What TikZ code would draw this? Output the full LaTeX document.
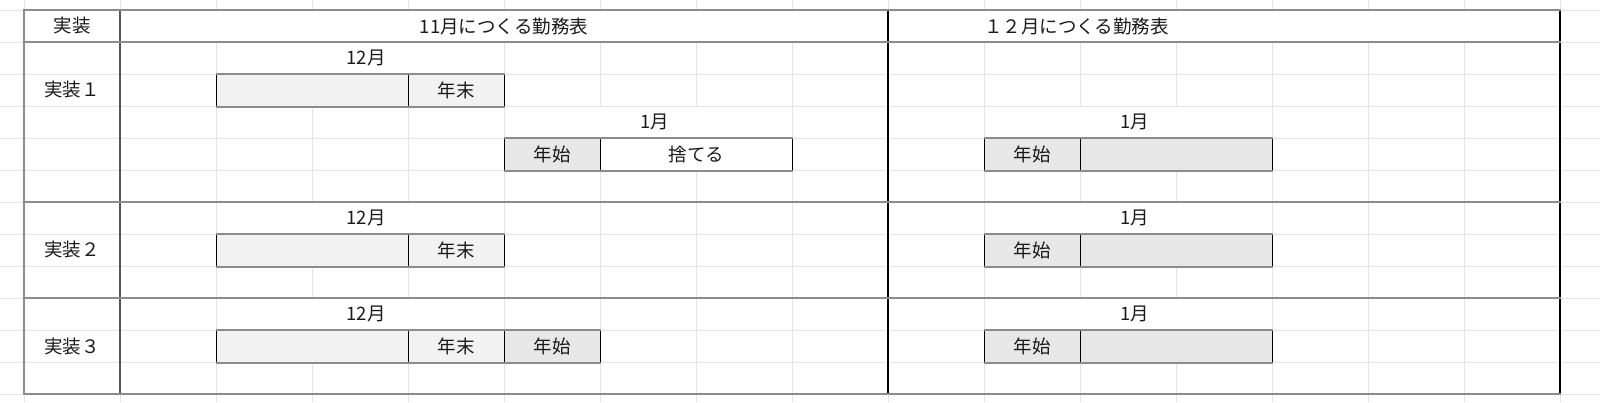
\documentclass[tikz,border=0pt]{standalone}
\usepackage{fontspec}
\newfontfamily\jp{Noto Sans CJK JP}
\definecolor{gridc}{HTML}{E4E4E4}
\definecolor{tborder}{HTML}{8C8C8C}
\definecolor{colborder}{HTML}{555555}
\definecolor{fillA}{HTML}{F2F2F2}
\definecolor{fillB}{HTML}{E7E7E7}
\definecolor{txt}{HTML}{1A1A1A}
\tikzset{
  gridline/.style={draw=gridc, line width=1pt},
  hborder/.style={draw=tborder, line width=2.2pt},
  lborder/.style={draw=tborder, line width=2pt},
  cborder/.style={draw=colborder, line width=1.2pt},
  mborder/.style={draw=black, line width=1.2pt},
  lbl/.style={font=\jp\fontsize{18.5}{18.5}\selectfont, text=txt, inner sep=0pt},
  cell/.style={lbl, draw=black, line width=0.9pt, minimum height=32pt, inner sep=0pt, anchor=north west},
  cellA/.style={cell, fill=fillA, minimum width=#1},
  cellB/.style={cell, fill=fillB, minimum width=#1},
  cellW/.style={cell, fill=white, minimum width=#1},
  boxedge/.style={draw=tborder, line width=2.2pt}
}
\begin{document}
\begin{tikzpicture}[x=1pt,y=-1pt]
\useasboundingbox (0,0) rectangle (1600,402);
\fill[white] (0,0) rectangle (1600,402);
% spreadsheet gridlines
\foreach \x in {24,120,...,1560} \draw[gridline] (\x,0) -- (\x,402);
\foreach \y in {10,42,...,394} \draw[gridline] (0,\y) -- (1600,\y);
% merged cells hide gridlines
\fill[white] (120.6,10) rectangle (1559.4,42);
\fill[white] (216.6,42.6) rectangle (503.4,73.4);
\fill[white] (504.6,106.6) rectangle (791.4,137.4);
\fill[white] (984.6,106.6) rectangle (1271.4,137.4);
\fill[white] (216.6,202.6) rectangle (503.4,233.4);
\fill[white] (984.6,202.6) rectangle (1271.4,233.4);
\fill[white] (216.6,298.6) rectangle (503.4,329.4);
\fill[white] (984.6,298.6) rectangle (1271.4,329.4);

% table borders
\draw[cborder] (120,10) -- (120,394);
\draw[mborder] (888,10) -- (888,394);
\draw[mborder] (1560,10) -- (1560,394);
\draw[lborder] (24,10) -- (24,394);
\foreach \y in {10,42,202,298,394} \draw[hborder] (23,\y) -- (1561,\y);

% header
\node[lbl] (hImpl) at (72,26) {実装};
\node[lbl] (hNov) at (504,26) {11月につくる勤務表};
\node[lbl, anchor=west] (hDec) at (984,26) {１２月につくる勤務表};

% row labels
\node[lbl] (impl1) at (72,90) {実装１};
\node[lbl] (impl2) at (72,250) {実装２};
\node[lbl] (impl3) at (72,346) {実装３};

% ---- row 1
\node[lbl] (m1a) at (366,58) {12月};
\node[cellA=192pt] (r1a) at (216,74) {};
\node[cellA=96pt] (r1b) at (408,74) {年末};
\draw[boxedge] (r1a.north west) -- (r1b.north east);
\draw[boxedge] (r1a.south west) -- (r1b.south east);

\node[lbl] (m1b) at (655,122) {1月};
\node[cellB=96pt] (r1c) at (504,138) {年始};
\node[cellW=192pt] (r1d) at (600,138) {捨てる};
\draw[boxedge] (r1c.north west) -- (r1d.north east);
\draw[boxedge] (r1c.south west) -- (r1d.south east);

\node[lbl] (m1c) at (1135,122) {1月};
\node[cellB=96pt] (r1e) at (984,138) {年始};
\node[cellB=192pt] (r1f) at (1080,138) {};
\draw[boxedge] (r1e.north west) -- (r1f.north east);
\draw[boxedge] (r1e.south west) -- (r1f.south east);

% ---- row 2
\node[lbl] (m2a) at (366,218) {12月};
\node[cellA=192pt] (r2a) at (216,234) {};
\node[cellA=96pt] (r2b) at (408,234) {年末};
\draw[boxedge] (r2a.north west) -- (r2b.north east);
\draw[boxedge] (r2a.south west) -- (r2b.south east);

\node[lbl] (m2c) at (1135,218) {1月};
\node[cellB=96pt] (r2e) at (984,234) {年始};
\node[cellB=192pt] (r2f) at (1080,234) {};
\draw[boxedge] (r2e.north west) -- (r2f.north east);
\draw[boxedge] (r2e.south west) -- (r2f.south east);

% ---- row 3
\node[lbl] (m3a) at (366,314) {12月};
\node[cellA=192pt] (r3a) at (216,330) {};
\node[cellA=96pt] (r3b) at (408,330) {年末};
\node[cellB=96pt] (r3c) at (504,330) {年始};
\draw[boxedge] (r3a.north west) -- (r3c.north east);
\draw[boxedge] (r3a.south west) -- (r3c.south east);

\node[lbl] (m3c) at (1135,314) {1月};
\node[cellB=96pt] (r3e) at (984,330) {年始};
\node[cellB=192pt] (r3f) at (1080,330) {};
\draw[boxedge] (r3e.north west) -- (r3f.north east);
\draw[boxedge] (r3e.south west) -- (r3f.south east);
\end{tikzpicture}
\end{document}
